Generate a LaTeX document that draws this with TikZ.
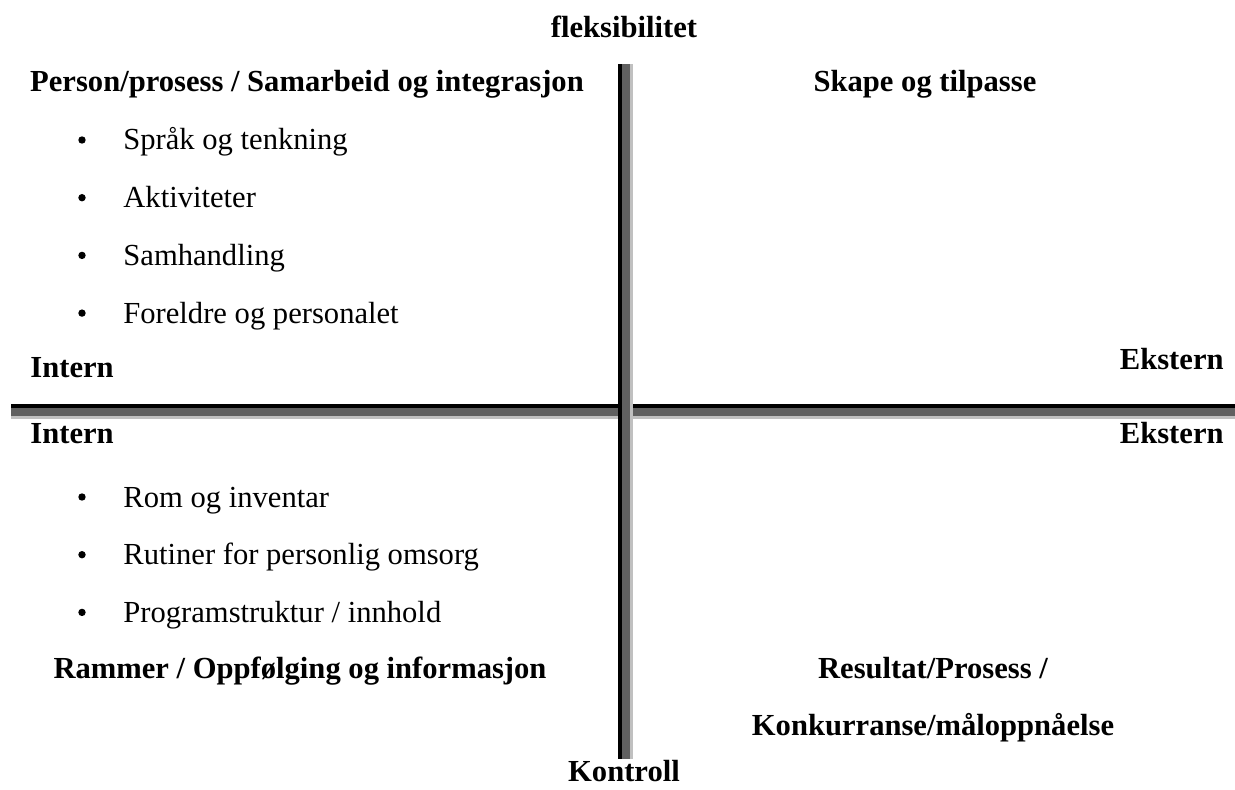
\documentclass[tikz,border=0pt]{standalone}
\usepackage{fontspec}
\setmainfont{Liberation Serif}
\definecolor{barDark}{RGB}{96,96,96}
\definecolor{barLight}{RGB}{192,192,192}
\tikzset{
  head/.style={anchor=base, inner sep=0pt, font=\fontsize{15.3}{18}\selectfont\bfseries},
  item/.style={anchor=base west, inner sep=0pt, font=\fontsize{15.3}{18}\selectfont},
  dot/.style={circle, fill=black, inner sep=0pt, minimum size=3.7pt}
}
\begin{document}
\begin{tikzpicture}[x=0.5pt, y=-0.5pt]

    \useasboundingbox (0,0) rectangle (1235,790);

    % horisontal akse
    \fill[black] (11,404) rectangle (1235,408);
    \fill[barDark] (11,408) rectangle (1235,416);
    \fill[barLight] (11,416) rectangle (1235,419);

    % vertikal akse
    \fill[black] (618,64) rectangle (622,759);
    \fill[barDark] (622,64) rectangle (630,759);
    \fill[barLight] (630,64) rectangle (633,759);

    % aksetitler
    \node[head] (flex) at (624,38) {fleksibilitet};
    \node[head] (kontroll) at (624,781) {Kontroll};

    % overskrifter i kvadrantene
    \node[head] (samarbeid) at (307,92) {Person/prosess / Samarbeid og integrasjon};
    \node[head] (skape) at (925,92) {Skape og tilpasse};
    \node[head, anchor=base west] (intern1) at (30,378) {Intern};
    \node[head, anchor=base east] (ekstern1) at (1224,370) {Ekstern};
    \node[head, anchor=base west] (intern2) at (30,444) {Intern};
    \node[head, anchor=base east] (ekstern2) at (1224,444) {Ekstern};
    \node[head] (rammer) at (300,678) {Rammer / Oppfølging og informasjon};
    \node[head] (resultat) at (933,678) {Resultat/Prosess /};
    \node[head] (konkurranse) at (933,735) {Konkurranse/måloppnåelse};

    % punkter oppe til venstre
    \foreach \txt [count=\i] in {Språk og tenkning, Aktiviteter, Samhandling, Foreldre og personalet} {
        \node[dot] (dotA\i) at (82,140+57.7*\i-57.7) {};
        \node[item] (itemA\i) at (123,150+57.7*\i-57.7) {\txt};
    }

    % punkter nede til venstre
    \foreach \txt [count=\i] in {Rom og inventar, Rutiner for personlig omsorg, Programstruktur / innhold} {
        \node[dot] (dotB\i) at (82,497+57.7*\i-57.7) {};
        \node[item] (itemB\i) at (123,507+57.7*\i-57.7) {\txt};
    }

\end{tikzpicture}
\end{document}
